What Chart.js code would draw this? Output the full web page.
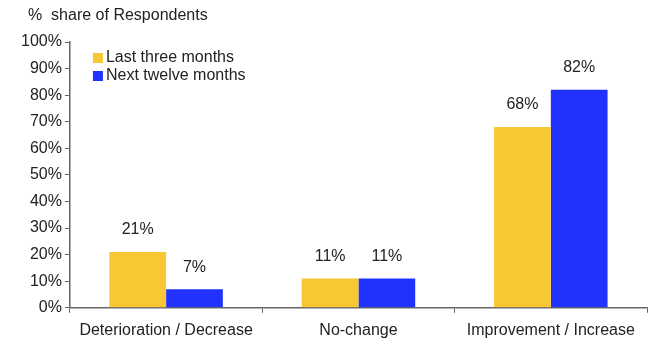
<!DOCTYPE html>
<html>
<head>
<meta charset="utf-8">
<script src="https://cdn.jsdelivr.net/npm/chart.js@4.4.1/dist/chart.umd.min.js"></script>
<style>
  html, body { margin: 0; padding: 0; background: #fff; }
  #wrap { width: 657px; height: 343px; }
</style>
</head>
<body>
<div id="wrap"><canvas id="bar-chart"></canvas></div>
<script>
const categories = ["Deterioration / Decrease", "No-change", "Improvement / Increase"];
const lastThreeMonths = [21, 11, 68];
const nextTwelveMonths = [7, 11, 82];
const seriesNames = ["Last three months", "Next twelve months"];
const yTicks = [0, 10, 20, 30, 40, 50, 60, 70, 80, 90, 100];
const axisTitle = "%  share of Respondents";

const FONT = "'Liberation Sans', Arial, sans-serif";
const YELLOW = "#F9C634";
const BLUE = "#2132FF";

// value labels above each bar, plus the left-hand title and the boxed legend
const extras = {
  id: "extras",
  afterDatasetsDraw(chart) {
    const ctx = chart.ctx;
    ctx.save();
    ctx.font = "16px " + FONT;
    ctx.fillStyle = "#222";
    ctx.textAlign = "center";
    ctx.textBaseline = "bottom";
    chart.data.datasets.forEach((ds, i) => {
      chart.getDatasetMeta(i).data.forEach((bar, j) => {
        ctx.fillText(ds.data[j] + "%", bar.x, bar.y - 14);
      });
    });

    ctx.textAlign = "left";
    ctx.textBaseline = "middle";
    ctx.fillText(axisTitle, 28, 16);

    const left = chart.chartArea.left + 23;
    chart.data.datasets.forEach((ds, i) => {
      const cy = 58 + i * 18;
      ctx.fillStyle = ds.backgroundColor;
      ctx.fillRect(left, cy - 5, 10, 10);
      ctx.fillStyle = "#222";
      ctx.fillText(ds.label, left + 13, cy);
    });
    ctx.restore();
  },
};

new Chart(document.getElementById("bar-chart"), {
  type: "bar",
  data: {
    labels: categories,
    datasets: [
      { label: seriesNames[0], data: lastThreeMonths, backgroundColor: YELLOW },
      { label: seriesNames[1], data: nextTwelveMonths, backgroundColor: BLUE },
    ],
  },
  options: {
    responsive: true,
    maintainAspectRatio: false,
    animation: false,
    layout: { padding: { top: 42, right: 10, left: 18, bottom: -5 } },
    datasets: {
      bar: { barPercentage: 1, categoryPercentage: 0.59 },
    },
    plugins: {
      legend: { display: false },
      tooltip: { enabled: false },
    },
    scales: {
      x: {
        offset: true,
        grid: {
          offset: true,
          drawOnChartArea: false,
          drawTicks: true,
          tickLength: 5,
          color: "#666",
        },
        border: { color: "#666", width: 1.5 },
        ticks: { font: { family: FONT, size: 16 }, color: "#222", padding: 8 },
      },
      y: {
        min: 0,
        max: 100,
        afterBuildTicks: (axis) => {
          axis.ticks = yTicks.map((v) => ({ value: v }));
        },
        grid: {
          drawOnChartArea: false,
          drawTicks: true,
          tickLength: 5,
          color: "#666",
        },
        border: { color: "#666", width: 1.5 },
        ticks: {
          font: { family: FONT, size: 16 },
          color: "#222",
          padding: 3,
          callback: (v) => v + "%",
        },
      },
    },
  },
  plugins: [extras],
});
</script>
</body>
</html>
